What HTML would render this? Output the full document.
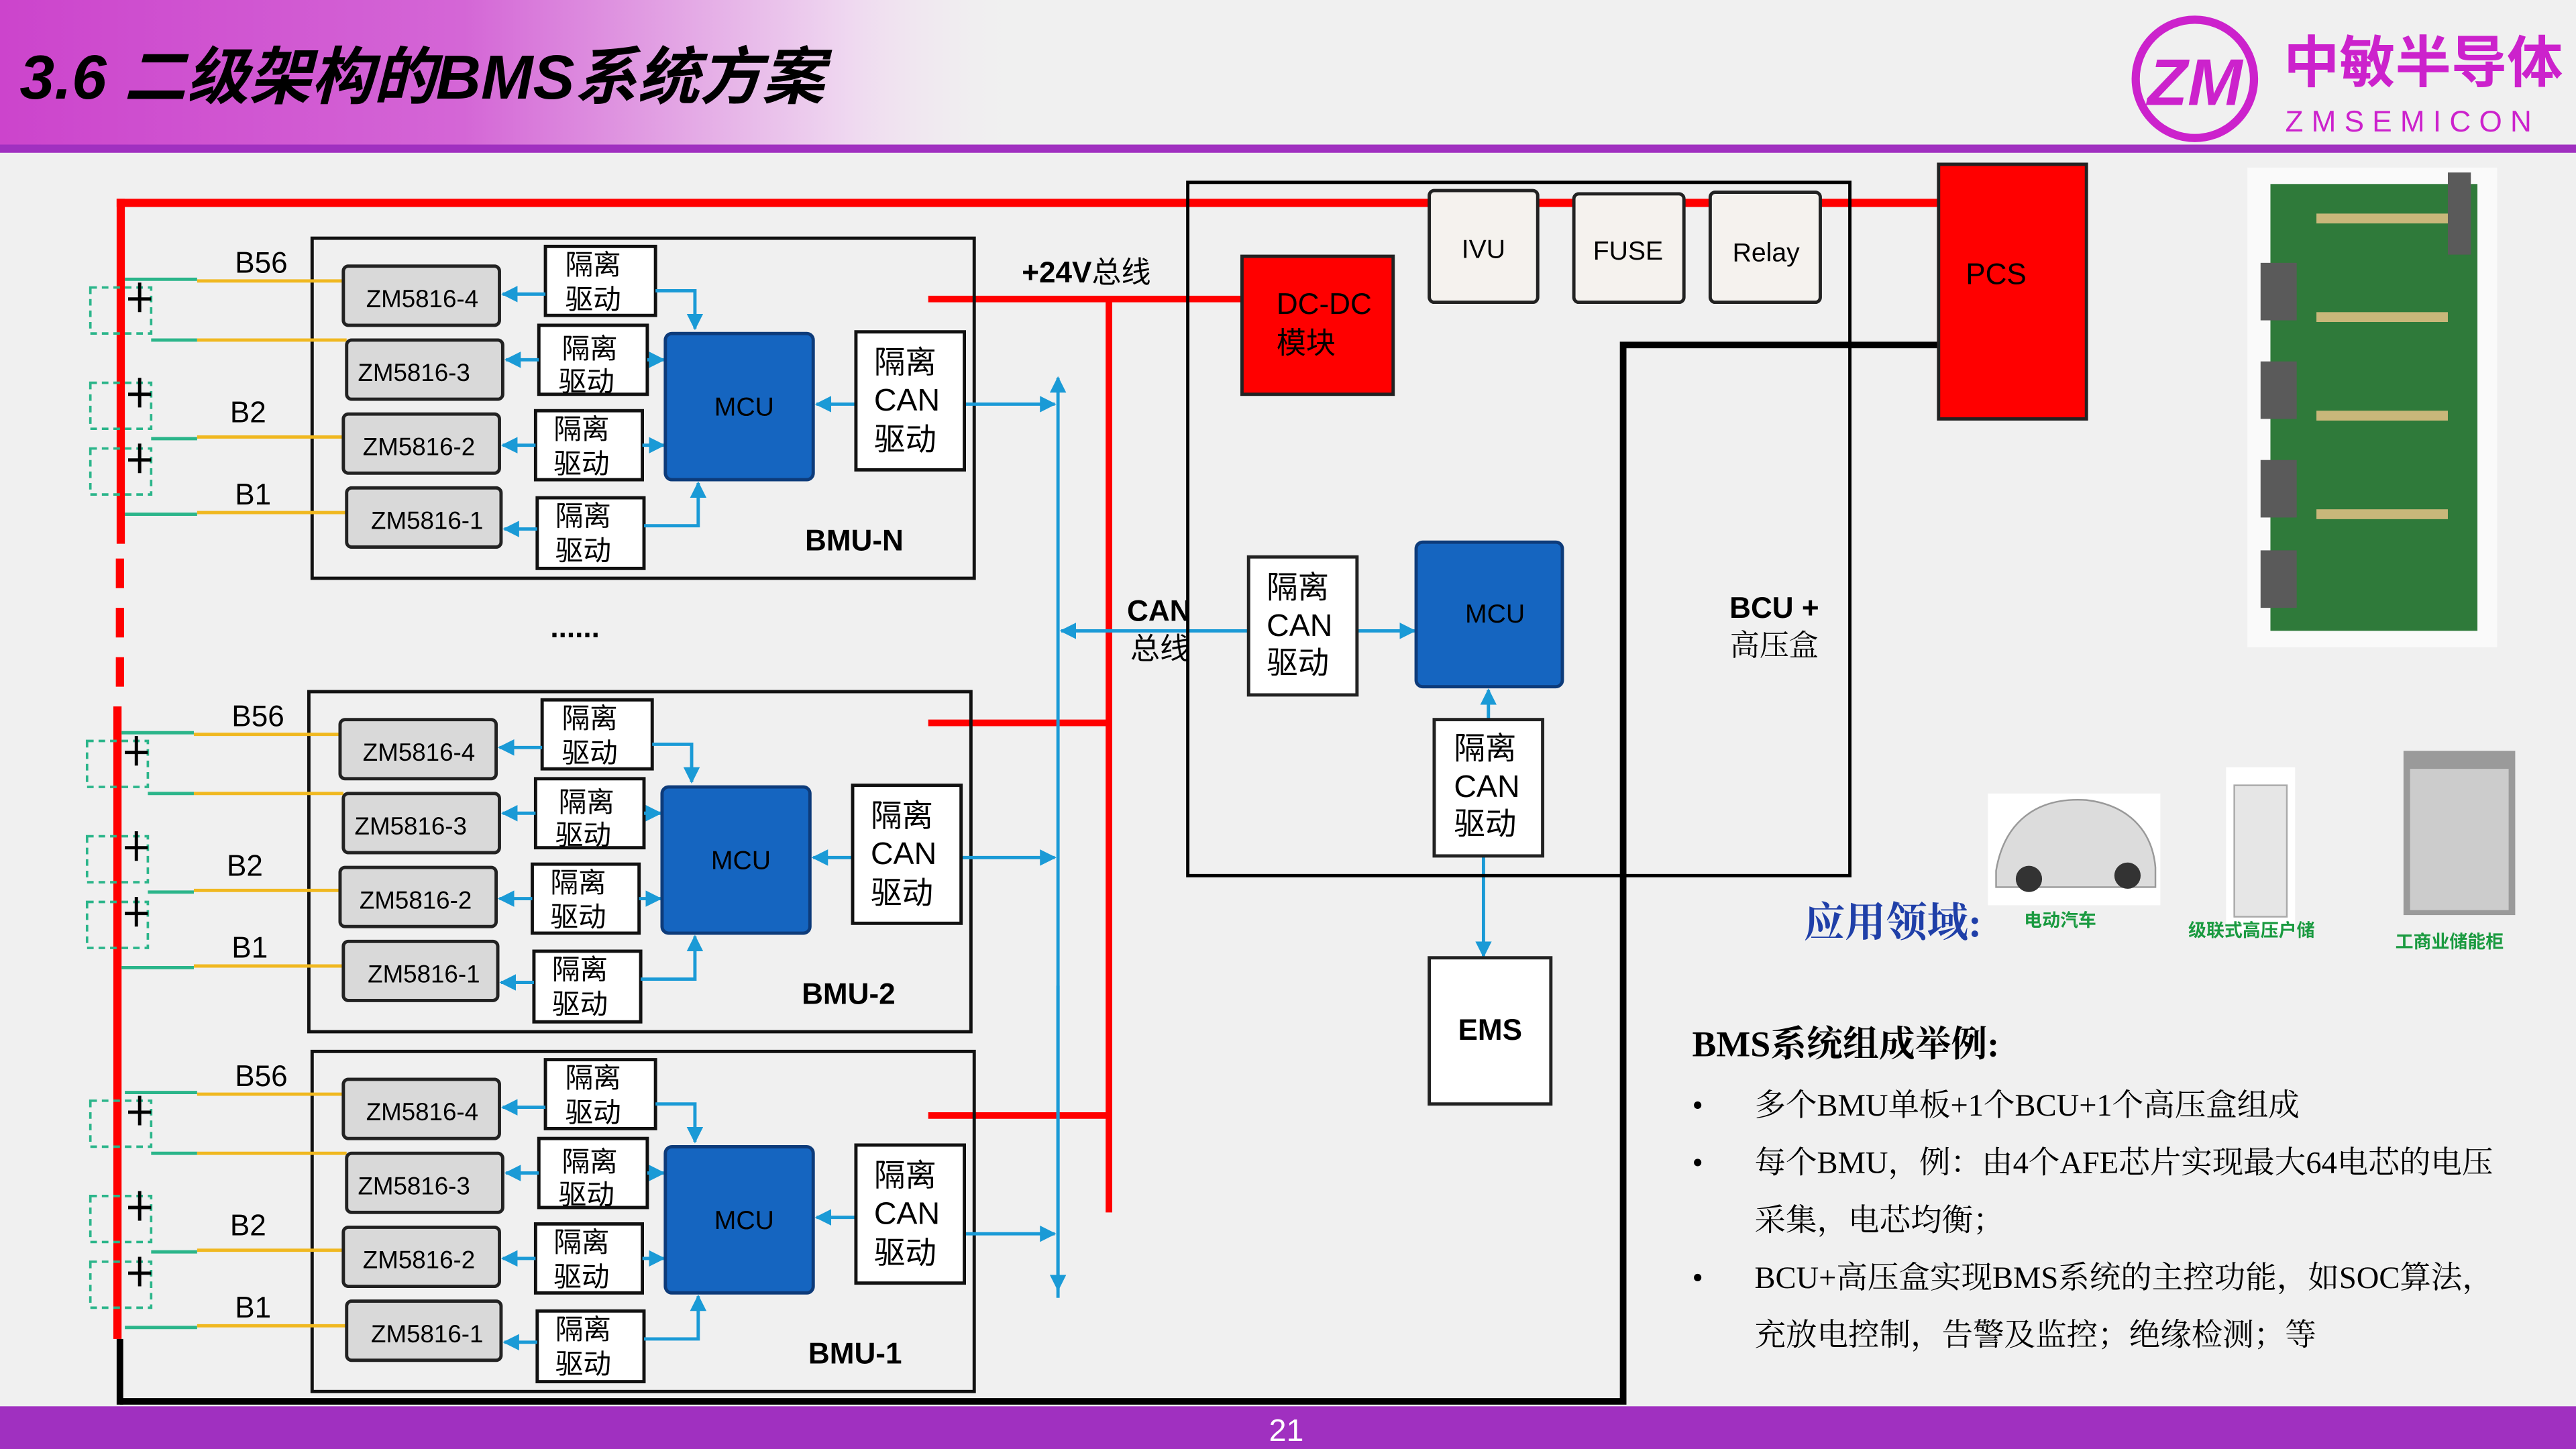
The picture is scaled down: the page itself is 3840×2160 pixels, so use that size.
<!DOCTYPE html>
<html><head><meta charset="utf-8"><style>
html,body{margin:0;padding:0;width:3840px;height:2160px;overflow:hidden;background:#f1f1f1}
svg{display:block}
text{font-family:"Liberation Sans","Noto Sans CJK SC",sans-serif}
text.s,.s text{font-family:"Liberation Serif","Noto Serif CJK SC",serif}
</style></head><body>
<svg width="3840" height="2160" viewBox="0 0 1568 882" xmlns="http://www.w3.org/2000/svg">
<defs>
<linearGradient id="hg" x1="0" x2="1" y1="0" y2="0">
<stop offset="0" stop-color="#cc44cc"/><stop offset="0.18" stop-color="#d466d6"/><stop offset="0.33" stop-color="#efd8f0"/><stop offset="0.4" stop-color="#f1f1f1" stop-opacity="0"/></linearGradient>
<marker id="a" viewBox="0 0 10 10" refX="9" refY="5" markerWidth="5" markerHeight="5" orient="auto"><path d="M0,0L10,5L0,10z" fill="#1a9ad6"/></marker>
</defs>
<rect width="1568" height="882" fill="#f0f0f0"/>
<rect width="1568" height="90" fill="url(#hg)"/>
<rect y="88" width="1568" height="5" fill="#a030c0"/>
<text x="12" y="60" font-size="38" font-weight="bold" font-style="italic" fill="#000">3.6 二级架构的BMS系统方案</text>
<circle cx="1336" cy="48" r="36" fill="none" stroke="#cc22cc" stroke-width="5"/>
<text x="1336" y="64" font-size="40" font-weight="bold" fill="#cc22cc" text-anchor="middle" font-style="italic">ZM</text>
<text x="1390" y="50" font-size="34" font-weight="bold" fill="#cc22cc">中敏半导体</text>
<text x="1391" y="80" font-size="18" fill="#cc22cc" letter-spacing="5">ZMSEMICON</text>

<!-- power lines -->
<rect x="71" y="121" width="1110" height="5" fill="#f00"/>
<rect x="71" y="121" width="5" height="210" fill="#f00"/>
<path d="M73,340V430" stroke="#f00" stroke-width="5" stroke-dasharray="18,12"/>
<rect x="69" y="430" width="5" height="385" fill="#f00"/>
<rect x="71" y="815" width="4" height="40" fill="#000"/>
<path d="M73,853H988V210H1180" fill="none" stroke="#000" stroke-width="4"/>
<path d="M565,182H755M675,182V738M565,440H675M565,679H675" fill="none" stroke="#f00" stroke-width="4"/>
<!-- CAN bus -->
<path d="M644,785V230" stroke="#1a9ad6" stroke-width="2" marker-end="url(#a)"/>
<path d="M644,785V790" stroke="#1a9ad6" stroke-width="2"/>
<path d="M644,600V785" stroke="#1a9ad6" stroke-width="2" marker-end="url(#a)"/>
<path d="M760,384H646" stroke="#1a9ad6" stroke-width="2" marker-end="url(#a)"/>
<path d="M826,384H861" stroke="#1a9ad6" stroke-width="2" marker-end="url(#a)"/>
<path d="M906,438V420" stroke="#1a9ad6" stroke-width="2" marker-end="url(#a)"/>
<path d="M903,521V582" stroke="#1a9ad6" stroke-width="2" marker-end="url(#a)"/>
<text x="622" y="172" font-size="18" font-weight="bold">+24V<tspan font-weight="normal">总线</tspan></text>
<text x="686" y="378" font-size="18" font-weight="bold">CAN</text>
<text x="688" y="401" font-size="18">总线</text>
<text x="335" y="388" font-size="18" font-weight="bold">......</text>

<!-- BCU box -->
<rect x="723" y="111" width="403" height="422" fill="none" stroke="#000" stroke-width="2"/>
<rect x="870" y="116" width="66" height="68" fill="#f5f2ee" stroke="#222" stroke-width="2" rx="3"/>
<text x="903" y="157" font-size="16" text-anchor="middle">IVU</text>
<rect x="958" y="118" width="67" height="66" fill="#f5f2ee" stroke="#222" stroke-width="2" rx="3"/>
<text x="991" y="158" font-size="16" text-anchor="middle">FUSE</text>
<rect x="1041" y="117" width="67" height="67" fill="#f5f2ee" stroke="#222" stroke-width="2" rx="3"/>
<text x="1075" y="159" font-size="16" text-anchor="middle">Relay</text>
<rect x="1180" y="100" width="90" height="155" fill="#f00" stroke="#222" stroke-width="2"/>
<text x="1215" y="173" font-size="18" text-anchor="middle">PCS</text>
<rect x="756" y="156" width="92" height="84" fill="#f00" stroke="#222" stroke-width="2"/>
<text x="777" y="191" font-size="18">DC-DC</text><text x="777" y="215" font-size="18">模块</text>
<rect x="760" y="339" width="66" height="84" fill="#fff" stroke="#222" stroke-width="2"/>
<text x="771" y="364" font-size="19">隔离</text><text x="771" y="387" font-size="19">CAN</text><text x="771" y="410" font-size="19">驱动</text>
<rect x="862" y="330" width="89" height="88" fill="#1565c0" stroke="#0d3b7a" stroke-width="2" rx="4"/>
<text x="910" y="379" font-size="16" fill="#000" text-anchor="middle">MCU</text>
<rect x="873" y="438" width="66" height="83" fill="#fff" stroke="#222" stroke-width="2"/>
<text x="885" y="462" font-size="19">隔离</text><text x="885" y="485" font-size="19">CAN</text><text x="885" y="508" font-size="19">驱动</text>
<rect x="870" y="583" width="74" height="89" fill="#fff" stroke="#222" stroke-width="2"/>
<text x="907" y="633" font-size="18" font-weight="bold" text-anchor="middle">EMS</text>
<text x="1080" y="376" font-size="18" font-weight="bold" text-anchor="middle">BCU +</text>
<text x="1080" y="399" font-size="18" text-anchor="middle" class="s">高压盒</text>

<g id="bn">
<rect x="190" y="145" width="403" height="207" fill="none" stroke="#111" stroke-width="2"/>
<g stroke-width="2"><path d="M76,170H120" stroke="#2bb58a"/><path d="M120,171H209" stroke="#f0b820"/>
<path d="M92,207H120" stroke="#2bb58a"/><path d="M120,207H211" stroke="#f0b820"/>
<path d="M92,267H120" stroke="#2bb58a"/><path d="M120,266H209" stroke="#f0b820"/>
<path d="M76,313H120" stroke="#2bb58a"/><path d="M120,312H211" stroke="#f0b820"/></g>
<g fill="none" stroke="#2bb58a" stroke-width="1.5" stroke-dasharray="4,3"><rect x="55" y="175" width="37" height="28"/><rect x="55" y="233" width="37" height="28"/><rect x="55" y="273" width="37" height="28"/></g>
<path d="M85,172V190M78,182H92M85,230V248M78,240H92M85,270V288M78,280H92" stroke="#000" stroke-width="2"/>
<text x="143" y="166" font-size="18">B56</text><text x="140" y="257" font-size="18">B2</text><text x="143" y="307" font-size="18">B1</text>
<g fill="#d9d9d9" stroke="#222" stroke-width="2"><rect x="209" y="162" width="95" height="36" rx="3"/><rect x="211" y="207" width="95" height="36" rx="3"/><rect x="209" y="252" width="95" height="36" rx="3"/><rect x="211" y="297" width="94" height="36" rx="3"/></g>
<g font-size="15" text-anchor="middle"><text x="257" y="187">ZM5816-4</text><text x="252" y="232">ZM5816-3</text><text x="255" y="277">ZM5816-2</text><text x="260" y="322">ZM5816-1</text></g>
<g fill="#fff" stroke="#111" stroke-width="2"><rect x="332" y="150" width="67" height="42"/><rect x="328" y="198" width="66" height="42"/><rect x="326" y="250" width="65" height="42"/><rect x="327" y="303" width="65" height="43"/></g>
<g font-size="17"><text x="344" y="167">隔离</text><text x="344" y="188">驱动</text><text x="342" y="218">隔离</text><text x="340" y="238">驱动</text><text x="337" y="267">隔离</text><text x="337" y="288">驱动</text><text x="338" y="320">隔离</text><text x="338" y="341">驱动</text></g>
<g stroke="#1a9ad6" stroke-width="2" fill="none"><path d="M332,179H306" marker-end="url(#a)"/><path d="M328,219H308" marker-end="url(#a)"/><path d="M326,271H306" marker-end="url(#a)"/><path d="M327,322H307" marker-end="url(#a)"/>
<path d="M399,177H423V200" marker-end="url(#a)"/><path d="M394,219H404" marker-end="url(#a)"/><path d="M391,271H404" marker-end="url(#a)"/><path d="M392,320H425V294" marker-end="url(#a)"/>
<path d="M521,246H497" marker-end="url(#a)"/><path d="M587,246H642" marker-end="url(#a)"/></g>
<rect x="405" y="203" width="90" height="89" fill="#1565c0" stroke="#0d3b7a" stroke-width="2" rx="4"/>
<text x="453" y="253" font-size="16" text-anchor="middle">MCU</text>
<rect x="521" y="202" width="66" height="84" fill="#fff" stroke="#111" stroke-width="2"/>
<text x="532" y="227" font-size="19">隔离</text><text x="532" y="250" font-size="19">CAN</text><text x="532" y="274" font-size="19">驱动</text>
<text x="490" y="335" font-size="18" font-weight="bold">BMU-N</text>
</g>
<g transform="translate(-2,276)">
<rect x="190" y="145" width="403" height="207" fill="none" stroke="#111" stroke-width="2"/>
<g stroke-width="2"><path d="M76,170H120" stroke="#2bb58a"/><path d="M120,171H209" stroke="#f0b820"/>
<path d="M92,207H120" stroke="#2bb58a"/><path d="M120,207H211" stroke="#f0b820"/>
<path d="M92,267H120" stroke="#2bb58a"/><path d="M120,266H209" stroke="#f0b820"/>
<path d="M76,313H120" stroke="#2bb58a"/><path d="M120,312H211" stroke="#f0b820"/></g>
<g fill="none" stroke="#2bb58a" stroke-width="1.5" stroke-dasharray="4,3"><rect x="55" y="175" width="37" height="28"/><rect x="55" y="233" width="37" height="28"/><rect x="55" y="273" width="37" height="28"/></g>
<path d="M85,172V190M78,182H92M85,230V248M78,240H92M85,270V288M78,280H92" stroke="#000" stroke-width="2"/>
<text x="143" y="166" font-size="18">B56</text><text x="140" y="257" font-size="18">B2</text><text x="143" y="307" font-size="18">B1</text>
<g fill="#d9d9d9" stroke="#222" stroke-width="2"><rect x="209" y="162" width="95" height="36" rx="3"/><rect x="211" y="207" width="95" height="36" rx="3"/><rect x="209" y="252" width="95" height="36" rx="3"/><rect x="211" y="297" width="94" height="36" rx="3"/></g>
<g font-size="15" text-anchor="middle"><text x="257" y="187">ZM5816-4</text><text x="252" y="232">ZM5816-3</text><text x="255" y="277">ZM5816-2</text><text x="260" y="322">ZM5816-1</text></g>
<g fill="#fff" stroke="#111" stroke-width="2"><rect x="332" y="150" width="67" height="42"/><rect x="328" y="198" width="66" height="42"/><rect x="326" y="250" width="65" height="42"/><rect x="327" y="303" width="65" height="43"/></g>
<g font-size="17"><text x="344" y="167">隔离</text><text x="344" y="188">驱动</text><text x="342" y="218">隔离</text><text x="340" y="238">驱动</text><text x="337" y="267">隔离</text><text x="337" y="288">驱动</text><text x="338" y="320">隔离</text><text x="338" y="341">驱动</text></g>
<g stroke="#1a9ad6" stroke-width="2" fill="none"><path d="M332,179H306" marker-end="url(#a)"/><path d="M328,219H308" marker-end="url(#a)"/><path d="M326,271H306" marker-end="url(#a)"/><path d="M327,322H307" marker-end="url(#a)"/>
<path d="M399,177H423V200" marker-end="url(#a)"/><path d="M394,219H404" marker-end="url(#a)"/><path d="M391,271H404" marker-end="url(#a)"/><path d="M392,320H425V294" marker-end="url(#a)"/>
<path d="M521,246H497" marker-end="url(#a)"/><path d="M587,246H644" marker-end="url(#a)"/></g>
<rect x="405" y="203" width="90" height="89" fill="#1565c0" stroke="#0d3b7a" stroke-width="2" rx="4"/>
<text x="453" y="253" font-size="16" text-anchor="middle">MCU</text>
<rect x="521" y="202" width="66" height="84" fill="#fff" stroke="#111" stroke-width="2"/>
<text x="532" y="227" font-size="19">隔离</text><text x="532" y="250" font-size="19">CAN</text><text x="532" y="274" font-size="19">驱动</text>
<text x="490" y="335" font-size="18" font-weight="bold">BMU-2</text>
</g>
<g transform="translate(0,495)">
<rect x="190" y="145" width="403" height="207" fill="none" stroke="#111" stroke-width="2"/>
<g stroke-width="2"><path d="M76,170H120" stroke="#2bb58a"/><path d="M120,171H209" stroke="#f0b820"/>
<path d="M92,207H120" stroke="#2bb58a"/><path d="M120,207H211" stroke="#f0b820"/>
<path d="M92,267H120" stroke="#2bb58a"/><path d="M120,266H209" stroke="#f0b820"/>
<path d="M76,313H120" stroke="#2bb58a"/><path d="M120,312H211" stroke="#f0b820"/></g>
<g fill="none" stroke="#2bb58a" stroke-width="1.5" stroke-dasharray="4,3"><rect x="55" y="175" width="37" height="28"/><rect x="55" y="233" width="37" height="28"/><rect x="55" y="273" width="37" height="28"/></g>
<path d="M85,172V190M78,182H92M85,230V248M78,240H92M85,270V288M78,280H92" stroke="#000" stroke-width="2"/>
<text x="143" y="166" font-size="18">B56</text><text x="140" y="257" font-size="18">B2</text><text x="143" y="307" font-size="18">B1</text>
<g fill="#d9d9d9" stroke="#222" stroke-width="2"><rect x="209" y="162" width="95" height="36" rx="3"/><rect x="211" y="207" width="95" height="36" rx="3"/><rect x="209" y="252" width="95" height="36" rx="3"/><rect x="211" y="297" width="94" height="36" rx="3"/></g>
<g font-size="15" text-anchor="middle"><text x="257" y="187">ZM5816-4</text><text x="252" y="232">ZM5816-3</text><text x="255" y="277">ZM5816-2</text><text x="260" y="322">ZM5816-1</text></g>
<g fill="#fff" stroke="#111" stroke-width="2"><rect x="332" y="150" width="67" height="42"/><rect x="328" y="198" width="66" height="42"/><rect x="326" y="250" width="65" height="42"/><rect x="327" y="303" width="65" height="43"/></g>
<g font-size="17"><text x="344" y="167">隔离</text><text x="344" y="188">驱动</text><text x="342" y="218">隔离</text><text x="340" y="238">驱动</text><text x="337" y="267">隔离</text><text x="337" y="288">驱动</text><text x="338" y="320">隔离</text><text x="338" y="341">驱动</text></g>
<g stroke="#1a9ad6" stroke-width="2" fill="none"><path d="M332,179H306" marker-end="url(#a)"/><path d="M328,219H308" marker-end="url(#a)"/><path d="M326,271H306" marker-end="url(#a)"/><path d="M327,322H307" marker-end="url(#a)"/>
<path d="M399,177H423V200" marker-end="url(#a)"/><path d="M394,219H404" marker-end="url(#a)"/><path d="M391,271H404" marker-end="url(#a)"/><path d="M392,320H425V294" marker-end="url(#a)"/>
<path d="M521,246H497" marker-end="url(#a)"/><path d="M587,256H642" marker-end="url(#a)"/></g>
<rect x="405" y="203" width="90" height="89" fill="#1565c0" stroke="#0d3b7a" stroke-width="2" rx="4"/>
<text x="453" y="253" font-size="16" text-anchor="middle">MCU</text>
<rect x="521" y="202" width="66" height="84" fill="#fff" stroke="#111" stroke-width="2"/>
<text x="532" y="227" font-size="19">隔离</text><text x="532" y="250" font-size="19">CAN</text><text x="532" y="274" font-size="19">驱动</text>
<text x="492" y="335" font-size="18" font-weight="bold">BMU-1</text>
</g>

<!-- PCB image -->
<rect x="1368" y="102" width="152" height="292" fill="#fafafa"/>
<rect x="1382" y="112" width="126" height="272" fill="#2f7a3a"/>
<g fill="#5a5a5a"><rect x="1376" y="160" width="22" height="35"/><rect x="1376" y="220" width="22" height="35"/><rect x="1376" y="280" width="22" height="35"/><rect x="1376" y="335" width="22" height="35"/><rect x="1490" y="105" width="14" height="50"/></g>
<g fill="#c9b77a"><rect x="1410" y="130" width="80" height="6"/><rect x="1410" y="190" width="80" height="6"/><rect x="1410" y="250" width="80" height="6"/><rect x="1410" y="310" width="80" height="6"/></g>

<!-- application -->
<rect x="1210" y="483" width="105" height="68" fill="#fff"/>
<path d="M1215,530C1220,500 1240,485 1270,487C1295,490 1310,505 1312,528L1312,540H1215Z" fill="#dcdcdc" stroke="#999"/>
<circle cx="1235" cy="535" r="8" fill="#333"/><circle cx="1295" cy="533" r="8" fill="#333"/>
<rect x="1355" y="467" width="42" height="100" fill="#fff"/><rect x="1360" y="478" width="32" height="80" fill="#e6e6e6" stroke="#aaa"/>
<rect x="1463" y="457" width="68" height="100" fill="#9a9a9a"/><rect x="1467" y="468" width="60" height="86" fill="#ccc"/>
<text x="1098" y="570" font-size="25" font-weight="bold" fill="#1f3fa8" class="s">应用领域:</text>
<g font-size="11" font-weight="bold" fill="#1a9a40"><text x="1232" y="564">电动汽车</text><text x="1332" y="570">级联式高压户储</text><text x="1458" y="577">工商业储能柜</text></g>
<text x="1030" y="643" font-size="22" font-weight="bold" class="s">BMS系统组成举例:</text>
<g font-size="19" class="s"><text x="1030" y="679">•</text><text x="1068" y="679">多个BMU单板+1个BCU+1个高压盒组成</text>
<text x="1030" y="714">•</text><text x="1068" y="714">每个BMU，例：由4个AFE芯片实现最大64电芯的电压</text>
<text x="1068" y="749">采集，电芯均衡；</text>
<text x="1030" y="784">•</text><text x="1068" y="784">BCU+高压盒实现BMS系统的主控功能，如SOC算法，</text>
<text x="1068" y="819">充放电控制，告警及监控；绝缘检测；等</text></g>

<rect y="856" width="1568" height="26" fill="#a030c0"/>
<text x="783" y="877" font-size="19" fill="#fff" text-anchor="middle">21</text>
</svg>
</body></html>
